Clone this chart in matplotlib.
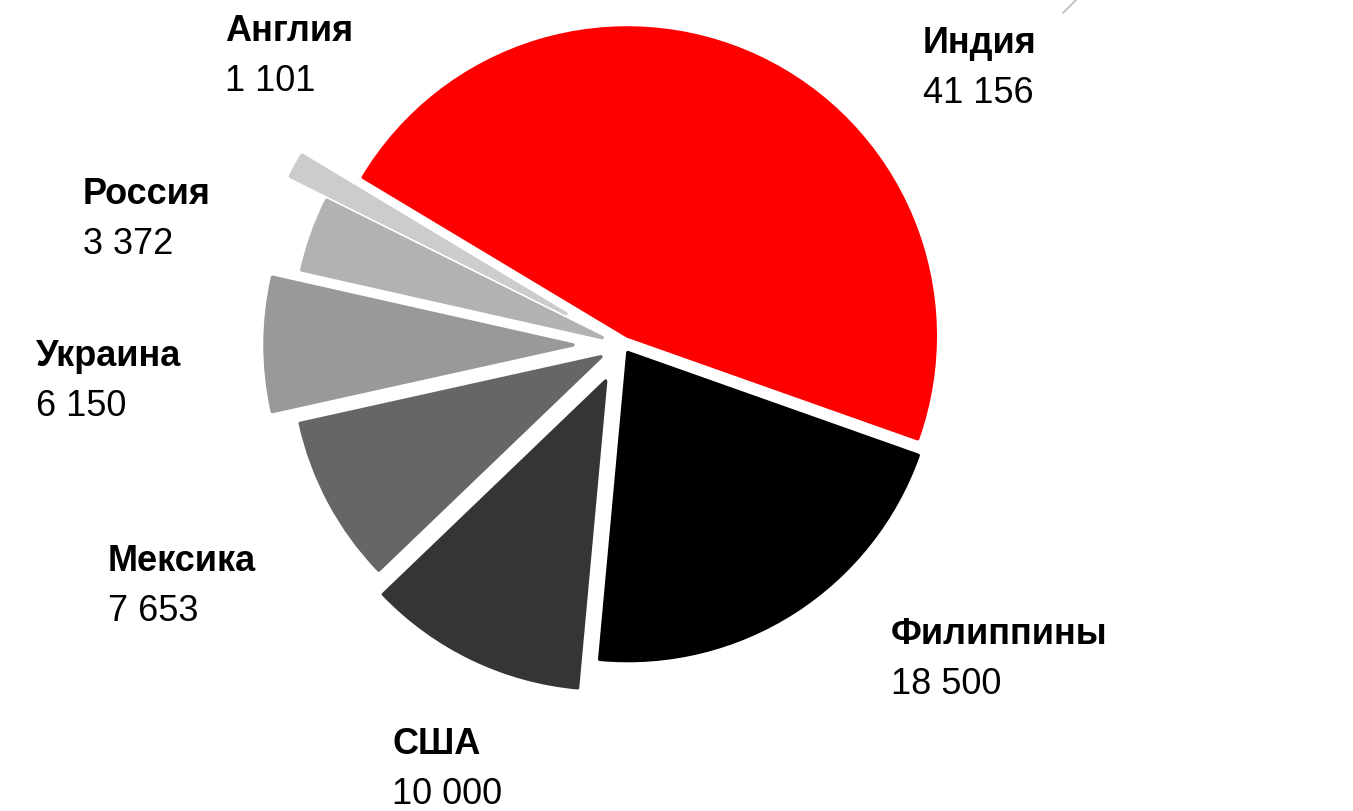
import matplotlib.pyplot as plt

plt.rcParams['font.family'] = ['Liberation Sans', 'DejaVu Sans']

# данные
countries = ['Индия', 'Филиппины', 'США', 'Мексика', 'Украина', 'Россия', 'Англия']
values = [41156, 18500, 10000, 7653, 6150, 3372, 1101]
value_labels = ['41 156', '18 500', '10 000', '7 653', '6 150', '3 372', '1 101']

colors = ['#ff0000', '#000000', '#353535', '#666666', '#999999', '#b2b2b2', '#cccccc']
# вынос секторов, пиксели (в pie explode задаётся в единицах данных)
explode_px = [10, 9, 40, 25, 50, 22, 65]

W, H = 1353, 811
R = 308
cx, cy = 623, H - 345

fig = plt.figure(figsize=(W / 100, H / 100), dpi=100)
ax = fig.add_axes([0, 0, 1, 1])

wedges, _ = ax.pie(values, colors=colors, radius=R, center=(cx, cy),
                   explode=explode_px,
                   startangle=149, counterclock=False,
                   wedgeprops=dict(linewidth=2.5, joinstyle='round'))
for w, c in zip(wedges, colors):
    w.set_edgecolor(c)

# подписи: (x, базовая линия названия сверху)
label_pos = [(923, 53), (891, 644), (392, 754), (108, 571), (36, 366), (83, 204), (225, 41)]
for name, val, (x, yb) in zip(countries, value_labels, label_pos):
    ax.text(x, H - yb, name, fontsize=26, fontweight='bold', ha='left', va='baseline')
    ax.text(x, H - yb - 50, val, fontsize=26, ha='left', va='baseline')

# обрывок выноски сверху справа
ax.plot([1063, 1077], [H - 13, H + 1], color='#bbbbbb', lw=1.2, solid_capstyle='round')

ax.set_xlim(0, W)
ax.set_ylim(0, H)
ax.set_aspect('equal')
ax.axis('off')

plt.savefig('out.png', dpi=100)
